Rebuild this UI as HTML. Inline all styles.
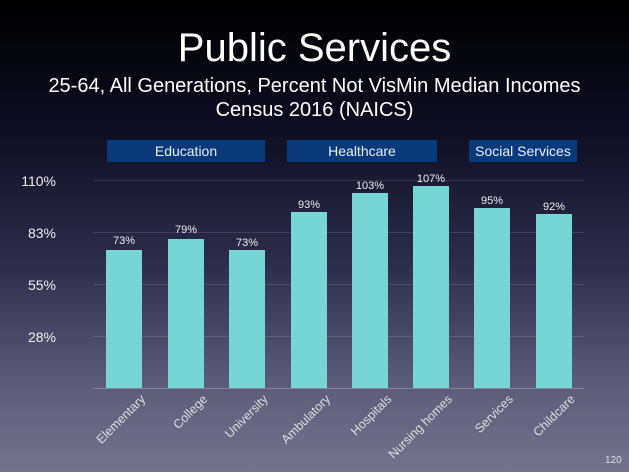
<!DOCTYPE html>
<html><head><style>
body{margin:0}
#c{position:relative;width:629px;height:472px;overflow:hidden;font-family:"Liberation Sans",sans-serif;color:#fff;
background:linear-gradient(to bottom,#000 0%,#0c0c1e 25%,#2c2c48 55%,#5a5a76 80%,#74748c 100%)}
.t{position:absolute;left:0;width:629px;text-align:center}
.h{position:absolute;top:140px;height:22px;background:#0a3a7a;font-size:14px;text-align:center;line-height:22px;color:#e8eef8}
.g{position:absolute;left:93px;width:491px;height:1px;background:rgba(255,255,255,0.12)}
.y{position:absolute;left:0;width:56px;text-align:right;font-size:14px;color:#eee}
.b{position:absolute;width:36px;background:#76d6d4;bottom:84px}
.v{position:absolute;width:50px;text-align:center;font-size:11px;color:#eee}
.l{position:absolute;font-size:12.5px;color:#ddd;transform-origin:right center;transform:rotate(-45deg);white-space:nowrap;text-align:right}
</style></head><body><div id="c">
<div class="t" style="top:26px;font-size:40px">Public Services</div>
<div class="t" style="top:74px;font-size:20px;line-height:24px">25-64, All Generations, Percent Not VisMin Median Incomes<br>Census 2016 (NAICS)</div>
<div class="h" style="left:107px;width:158px">Education</div>
<div class="h" style="left:287px;width:150px">Healthcare</div>
<div class="h" style="left:469px;width:108px">Social Services</div>
<div class="g" style="top:180px"></div><div class="g" style="top:232px"></div><div class="g" style="top:284px"></div><div class="g" style="top:336px"></div>
<div class="g" style="top:388px;background:rgba(255,255,255,0.25)"></div>
<div class="y" style="top:173px">110%</div><div class="y" style="top:225px">83%</div><div class="y" style="top:277px">55%</div><div class="y" style="top:329px">28%</div>
<div class="b" style="left:106px;height:138px"></div><div class="v" style="left:99px;top:235px">73%</div>
<div class="b" style="left:168px;height:149px"></div><div class="v" style="left:161px;top:224px">79%</div>
<div class="b" style="left:229px;height:138px"></div><div class="v" style="left:222px;top:237px">73%</div>
<div class="b" style="left:291px;height:176px"></div><div class="v" style="left:284px;top:199px">93%</div>
<div class="b" style="left:352px;height:195px"></div><div class="v" style="left:345px;top:180px">103%</div>
<div class="b" style="left:413px;height:202px"></div><div class="v" style="left:406px;top:173px">107%</div>
<div class="b" style="left:474px;height:180px"></div><div class="v" style="left:467px;top:195px">95%</div>
<div class="b" style="left:536px;height:174px"></div><div class="v" style="left:529px;top:201px">92%</div>
<div class="l" style="right:486px;top:390px">Elementary</div>
<div class="l" style="right:424px;top:390px">College</div>
<div class="l" style="right:363px;top:390px">University</div>
<div class="l" style="right:301px;top:390px">Ambulatory</div>
<div class="l" style="right:240px;top:390px">Hospitals</div>
<div class="l" style="right:179px;top:390px">Nursing homes</div>
<div class="l" style="right:118px;top:390px">Services</div>
<div class="l" style="right:56px;top:390px">Childcare</div>
<div style="position:absolute;left:605px;top:455px;font-size:10px;color:#ddd">120</div>
</div></body></html>
